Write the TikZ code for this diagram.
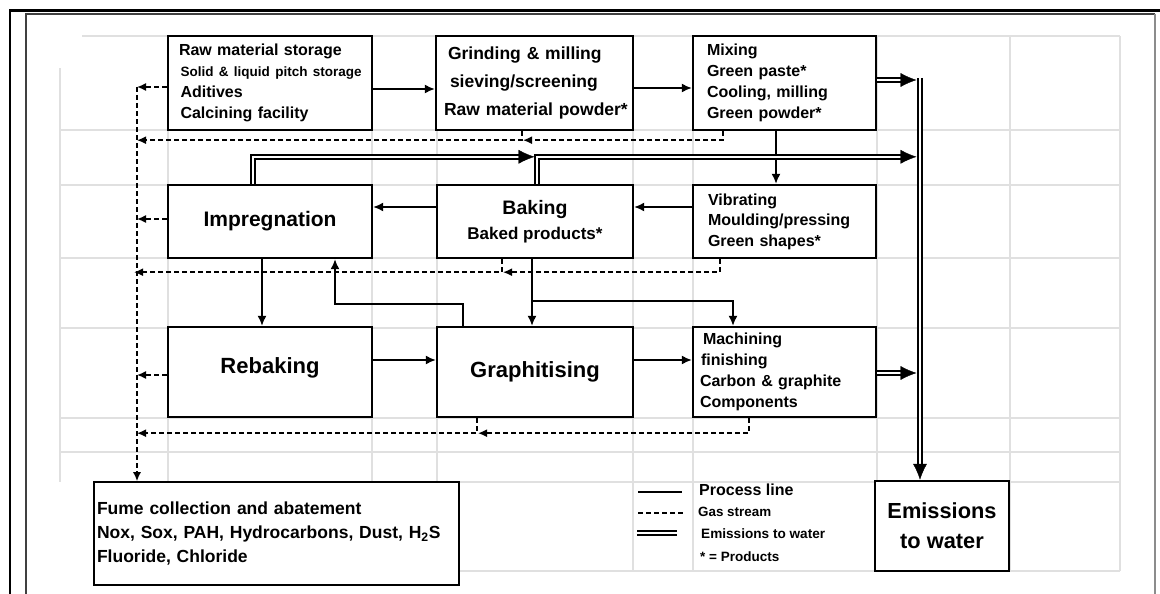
\documentclass[tikz,border=0pt]{standalone}
\usepackage{fontspec}
\setmainfont{Liberation Sans}
\usetikzlibrary{arrows.meta,calc}
\pgfdeclarelayer{bg}
\pgfsetlayers{bg,main}
\newcommand{\fs}[2]{\fontsize{#1}{#2}\selectfont}
\begin{document}
\begin{tikzpicture}[x=1pt,y=-1pt,
  box/.style={draw=black, line width=2.4pt, fill=white, rectangle, inner ysep=0pt},
  proc/.style={line width=1.6pt, -{Latex[length=10pt,width=9pt]}},
  gas/.style={line width=1.5pt, dash pattern=on 5pt off 3pt, -{Latex[length=9pt,width=8pt]}},
  water/.style={draw=white, line width=0.4pt, -{Latex[length=16pt,width=14pt,color=black]},
     preaction={draw=black, double=white, line width=1.6pt, double distance=2.4pt, arrows=-, shorten >=11pt}},
  gridline/.style={draw=black!12, line width=1.3pt},
  legtxt/.style={inner sep=0pt, anchor=west}
]
\useasboundingbox (0,0) rectangle (1160,594);

% ---------- boxes ----------
\node[box, text width=182pt, inner xsep=11pt, minimum height=94pt, align=left, font=\bfseries\fs{16}{21}] (raw) at (270,83)
  {\mbox{Raw material storage}\\ \mbox{\fs{13.5}{21}\hspace*{1.5pt}Solid \& liquid pitch storage}\\ \hspace*{1.5pt}Aditives\\ \hspace*{1.5pt}Calcining facility};
\node[box, text width=185pt, inner xsep=6pt, minimum height=94pt, align=left, font=\bfseries\fs{17.5}{28}] (grind) at (534.5,83)
  {\hspace*{6pt}Grinding \& milling\\ \hspace*{8pt}sieving/screening\\ \mbox{\hspace*{2pt}Raw material powder*}};
\node[box, text width=155pt, inner xsep=14pt, minimum height=94pt, align=left, font=\bfseries\fs{16}{21}] (mix) at (784.5,83)
  {Mixing\\ Green paste*\\ Cooling, milling\\ Green powder*};
\node[box, minimum width=204pt, minimum height=73pt, font=\bfseries\fs{21}{25}] (impreg) at (270,221.5) {Impregnation};
\node[box, minimum width=196pt, minimum height=73pt, align=center, font=\bfseries\fs{19.5}{25}] (bake) at (535,221.5)
  {Baking\\ {\fs{17}{25}Baked products*}};
\node[box, text width=153pt, inner xsep=15pt, minimum height=73pt, align=left, font=\bfseries\fs{16}{20.5}] (vib) at (784.5,221.5)
  {Vibrating\\ \mbox{Moulding/pressing}\\ Green shapes*};
\node[box, minimum width=204pt, minimum height=90pt, font=\bfseries\fs{22}{25}] (rebake) at (270,372)
  {\raisebox{-1pt}[0pt][0pt]{Rebaking}};
\node[box, minimum width=196pt, minimum height=90pt, font=\bfseries\fs{22}{25}] (graph) at (535,372) {Graphitising};
\node[box, text width=169pt, inner xsep=7pt, minimum height=90pt, align=left, font=\bfseries\fs{16}{21}] (mach) at (784.5,372)
  {\hspace*{3pt}Machining\\ \hspace*{1pt}finishing\\ Carbon \& graphite\\ Components};
\node[box, line width=1.6pt, text width=359pt, inner xsep=3pt, minimum height=103pt, align=left, font=\bfseries\fs{17.5}{24}] (fume) at (276.5,533.5)
  {Fume collection and abatement\\ \mbox{Nox, Sox, PAH, Hydrocarbons, Dust, H\textsubscript{2}S}\\ Fluoride, Chloride};
\node[box, minimum width=134pt, minimum height=90pt, align=center, font=\bfseries\fs{21.8}{30}] (emis) at (942,526)
  {Emissions\\ to water};

% ---------- legend ----------
\draw[line width=1.6pt] (638,492) -- (682,492);
\draw[line width=1.5pt, dash pattern=on 5pt off 3pt] (638,513) -- (684,513);
\draw[line width=1.6pt, double=white, double distance=2.2pt] (637,533) -- (677,533);
\node[legtxt, font=\bfseries\fs{16}{18}] (l1) at (699,490) {Process line};
\node[legtxt, font=\bfseries\fs{13.4}{16}] (l2) at (698,512) {Gas stream};
\node[legtxt, font=\bfseries\fs{13.6}{16}] (l3) at (701,534) {Emissions to water};
\node[legtxt, font=\bfseries\fs{13.5}{16}] (l4) at (700,557) {* = Products};

\begin{pgfonlayer}{bg}
% grid
\foreach \yy in {130,185,258,328,418,452} \draw[gridline] (60,\yy) -- (1120,\yy);
\foreach \yy in {482,571} \draw[gridline] (94,\yy) -- (1120,\yy);
\draw[gridline] (82,36) -- (1120,36);
\draw[gridline] (60,68) -- (60,482);
\foreach \xx in {168,372,437} \draw[gridline] (\xx,36) -- (\xx,482);
\foreach \xx in {633,693,877,1010,1120} \draw[gridline] (\xx,36) -- (\xx,571);
% frame
\draw[line width=2.7pt] (10,594) -- (10,10.6) -- (1160,10.6);
\draw[line width=2.2pt, black!75] (26,594) -- (26,13.8) -- (1155,13.8);
\draw[line width=2.2pt, black!45] (1155,13.8) -- (1155,594);

% process lines
\draw[proc] ([yshift=-6pt]raw.east) -- ([yshift=-6pt]grind.west);
\draw[proc] ([yshift=-5pt]grind.east) -- ([yshift=-5pt]mix.west);
\draw[proc] ([xshift=-8.5pt]mix.south) -- ([xshift=-8.5pt]vib.north);
\draw[proc] ([yshift=14.5pt]vib.west) -- ([yshift=14.5pt]bake.east);
\draw[proc] ([yshift=14.5pt]bake.west) -- ([yshift=14.5pt]impreg.east);
\draw[proc] ([xshift=-8pt]impreg.south) -- ([xshift=-8pt]rebake.north);
\draw[proc] ([xshift=-72pt]graph.north) -- ++(0,-22) -| ([xshift=65pt]impreg.south);
\draw[proc] ([xshift=-3pt]bake.south) -- ([xshift=-3pt]graph.north);
\coordinate (br) at ($([xshift=-3pt]bake.south)+(0,42)$);
\draw[proc] (br) -| ([xshift=-51.5pt]mach.north);
\draw[proc] ([yshift=12pt]rebake.east) -- ([yshift=12pt]graph.west);
\draw[proc] ([yshift=12pt]graph.east) -- ([yshift=12pt]mach.west);

% gas streams
\coordinate (coltop) at (137,87);
\draw[gas] (coltop) -- (coltop |- fume.north);
\draw[gas] ([yshift=-4pt]raw.west) -- (coltop);
\coordinate (g1) at ($([xshift=-12.5pt]grind.south)+(0,9)$);
\draw[gas] ([xshift=-61.5pt]mix.south) |- ($(g1)+(1,0)$);
\draw[gas] ([xshift=-12.5pt]grind.south) |- (g1 -| coltop);
\draw[gas] ($(impreg.west)+(0,-2.5)$) -- ($(impreg.west -| coltop)+(0,-2.5)$);
\coordinate (g2) at ($([xshift=-33pt]bake.south)+(0,13)$);
\draw[gas] ([xshift=-64.5pt]vib.south) |- ($(g2)+(1,0)$);
\draw[gas] ([xshift=-33pt]bake.south) |- ($(g2 -| coltop)+(-3,0)$);
\draw[gas] ($(rebake.west)+(0,3)$) -- ($(rebake.west -| coltop)+(0,3)$);
\coordinate (g3) at ($([xshift=-58pt]graph.south)+(0,15)$);
\draw[gas] ([xshift=-35.5pt]mach.south) |- ($(g3)+(1,0)$);
\draw[gas] ([xshift=-58pt]graph.south) |- (g3 -| coltop);

% emissions to water
\coordinate (trunk) at (920,78);
\draw[water] (trunk) -- (trunk |- emis.north);
\draw[water] ($(mix.east)+(0,-3)$) -- ($(mix.east -| trunk)+(-3.5,-3)$);
\coordinate (bk) at ($([xshift=2pt]bake.north)+(0,-27)$);
\draw[water] ([xshift=-17pt]impreg.north) |- ($(bk)+(-2.5,0)$);
\draw[water] ([xshift=2pt]bake.north) |- ($(bk -| trunk)+(-3.5,0)$);
\draw[water] ($(mach.east)+(0,1)$) -- ($(mach.east -| trunk)+(-3.5,1)$);
\end{pgfonlayer}
\end{tikzpicture}
\end{document}
